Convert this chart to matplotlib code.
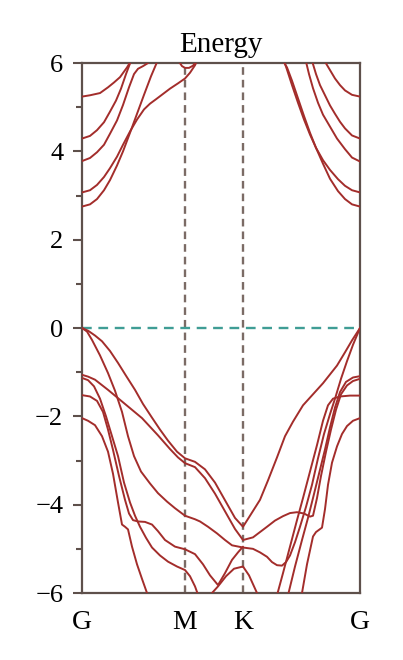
import matplotlib
matplotlib.use("Agg")
import matplotlib.pyplot as plt
from matplotlib.ticker import MultipleLocator

plt.rcParams['font.family'] = ['Liberation Serif', 'DejaVu Serif']
plt.rcParams['lines.scale_dashes'] = False

# high-symmetry points along the k-path (arbitrary path units)
kpt_labels = ["G", "M", "K", "G"]
kpt_pos = [0.0, 1.03, 1.61, 2.78]

# ---- valence bands ----
vb1_k = [0, .06, .13, .20, .28, .36, .44, .53, .61, .70, .78, .86, .95, 1.03, 1.13, 1.23, 1.33, 1.43, 1.53, 1.61,
         1.68, 1.78, 1.86, 1.95, 2.03, 2.11, 2.21, 2.31, 2.41, 2.48, 2.55, 2.63, 2.70, 2.78]
vb1_e = [0, -0.06, -0.17, -0.30, -0.52, -0.79, -1.08, -1.40, -1.72, -2.03, -2.30, -2.55, -2.80, -2.95, -3.03, -3.20,
         -3.50, -3.90, -4.30, -4.50, -4.25, -3.89, -3.45, -2.93, -2.45, -2.12, -1.75, -1.50, -1.25, -1.05, -0.85,
         -0.55, -0.28, 0]

vbc_k = [0, .06, .13, .26, .43, .60, .76, .88, .96, 1.03, 1.13, 1.23, 1.33, 1.43, 1.53, 1.61, 1.71, 1.78, 1.85,
         1.93, 2.01, 2.08, 2.15, 2.22, 2.28, 2.31, 2.35, 2.39, 2.44, 2.49, 2.54, 2.59, 2.65, 2.71, 2.78]
vbc_e = [-1.06, -1.10, -1.17, -1.40, -1.72, -2.04, -2.43, -2.74, -2.93, -3.06, -3.15, -3.40, -3.75, -4.15, -4.55,
         -4.80, -4.74, -4.62, -4.50, -4.36, -4.26, -4.19, -4.17, -4.20, -4.27, -4.25, -3.85, -3.35, -2.80, -2.30,
         -1.85, -1.50, -1.30, -1.20, -1.15]

vbb_k = [0, .05, .10, .18, .26, .33, .40, .46, .52, .59, .68, .76, .85, .93, 1.03, 1.13, 1.18, 1.26, 1.35, 1.43,
         1.50, 1.61, 1.71, 1.78, 1.85, 1.90, 1.95, 2.00, 2.04, 2.08, 2.13, 2.18, 2.24, 2.30, 2.36, 2.42, 2.48, 2.53,
         2.59, 2.65, 2.71, 2.78]
vbb_e = [0, -0.08, -0.27, -0.62, -1.02, -1.42, -1.90, -2.45, -2.90, -3.25, -3.52, -3.74, -3.93, -4.08, -4.25,
         -4.33, -4.38, -4.50, -4.65, -4.80, -4.92, -4.97, -5.00, -5.08, -5.18, -5.30, -5.37, -5.38, -5.30, -5.15,
         -4.85, -4.50, -4.05, -3.55, -2.95, -2.40, -1.95, -1.60, -1.15, -0.75, -0.38, 0]

vbd_k = [0, .06, .12, .18, .24, .30, .36, .42, .48, .53, .58, .64, .70, .78, .86, .95, 1.03, 1.08, 1.13, 1.17, 1.21]
vbd_e = [-1.13, -1.18, -1.32, -1.60, -2.00, -2.45, -2.90, -3.50, -3.95, -4.25, -4.50, -4.75, -4.97, -5.15, -5.29,
         -5.40, -5.48, -5.62, -5.85, -6.10, -6.40]

vbe_k = [0, .08, .15, .21, .26, .31, .37, .43, .47, .51, .56, .63, .70, .76, .83, .93, 1.03, 1.13, 1.21, 1.28,
         1.36, 1.43, 1.50, 1.56, 1.61]
vbe_e = [-1.52, -1.55, -1.65, -1.90, -2.30, -2.76, -3.35, -3.89, -4.20, -4.35, -4.38, -4.39, -4.45, -4.60, -4.80,
         -4.95, -5.01, -5.12, -5.35, -5.60, -5.82, -5.55, -5.25, -5.08, -4.95]

vbf_k = [0, .06, .13, .20, .26, .31, .36, .40, .43, .46, .50, .55, .60, .65, .68]
vbf_e = [-2.04, -2.10, -2.20, -2.45, -2.80, -3.30, -3.95, -4.45, -4.50, -4.56, -4.95, -5.35, -5.68, -6.00, -6.20]

vbx_k = [1.21, 1.28, 1.36, 1.44, 1.52, 1.61, 1.67, 1.72, 1.76, 1.80]
vbx_e = [-6.30, -6.05, -5.85, -5.62, -5.45, -5.40, -5.60, -5.85, -6.05, -6.30]

vba_k = [1.95, 2.01, 2.08, 2.15, 2.21, 2.28, 2.35, 2.41, 2.46, 2.51, 2.58, 2.68, 2.78]
vba_e = [-6.05, -5.55, -4.95, -4.35, -3.85, -3.25, -2.65, -2.10, -1.75, -1.60, -1.55, -1.53, -1.53]

vbg_k = [2.06, 2.13, 2.20, 2.26, 2.31, 2.37, 2.43, 2.48, 2.53, 2.58, 2.64, 2.71, 2.78]
vbg_e = [-6.05, -5.40, -4.80, -4.30, -3.85, -3.30, -2.75, -2.25, -1.80, -1.45, -1.22, -1.12, -1.09]

vbh_k = [2.20, 2.25, 2.31, 2.34, 2.37, 2.40, 2.43, 2.46, 2.50, 2.55, 2.60, 2.65, 2.71, 2.78]
vbh_e = [-6.00, -5.35, -4.72, -4.62, -4.57, -4.52, -4.10, -3.55, -3.05, -2.68, -2.40, -2.22, -2.10, -2.04]

# ---- conduction bands ----
c1l_k = [0, .08, .18, .26, .32, .38, .45, .49]
c1l_e = [5.24, 5.27, 5.32, 5.45, 5.56, 5.68, 5.90, 6.05]
c2l_k = [0, .08, .15, .22, .28, .34, .39, .44, .49]
c2l_e = [4.29, 4.35, 4.48, 4.66, 4.90, 5.15, 5.42, 5.75, 6.05]
c3l_k = [0, .08, .15, .22, .28, .35, .41, .47, .52, .56, .61, .66, .68]
c3l_e = [3.78, 3.85, 3.98, 4.15, 4.40, 4.70, 5.05, 5.45, 5.75, 5.87, 5.93, 6.00, 6.05]
c4l_k = [0, .08, .15, .22, .28, .35, .41, .48, .55, .62, .68, .74, .81, .88, .96, 1.03, 1.08, 1.13, 1.15]
c4l_e = [3.07, 3.12, 3.24, 3.42, 3.62, 3.88, 4.15, 4.45, 4.72, 4.95, 5.08, 5.18, 5.30, 5.42, 5.54, 5.65, 5.78,
         5.95, 6.05]
c5l_k = [0, .08, .15, .22, .28, .35, .41, .48, .55, .62, .69, .75, .77]
c5l_e = [2.75, 2.80, 2.92, 3.12, 3.35, 3.68, 4.00, 4.42, 4.85, 5.28, 5.70, 6.02, 6.12]
cu_k = [.97, 1.00, 1.03, 1.07, 1.11, 1.14]
cu_e = [6.03, 5.93, 5.89, 5.89, 5.94, 6.03]
c1r_k = [2.43, 2.48, 2.53, 2.58, 2.63, 2.70, 2.78]
c1r_e = [6.03, 5.84, 5.65, 5.50, 5.38, 5.28, 5.24]
c2r_k = [2.30, 2.34, 2.38, 2.43, 2.48, 2.53, 2.58, 2.63, 2.70, 2.78]
c2r_e = [6.05, 5.75, 5.50, 5.27, 5.04, 4.85, 4.67, 4.52, 4.36, 4.29]
c3r_k = [2.24, 2.27, 2.31, 2.36, 2.41, 2.48, 2.55, 2.63, 2.70, 2.78]
c3r_e = [6.03, 5.75, 5.43, 5.10, 4.83, 4.56, 4.29, 4.05, 3.86, 3.77]
c4r_k = [2.02, 2.05, 2.10, 2.16, 2.22, 2.28, 2.34, 2.41, 2.48, 2.56, 2.63, 2.70, 2.78]
c4r_e = [6.05, 5.85, 5.50, 5.10, 4.72, 4.38, 4.08, 3.80, 3.58, 3.37, 3.22, 3.12, 3.07]
c5r_k = [2.01, 2.05, 2.10, 2.16, 2.22, 2.28, 2.34, 2.41, 2.48, 2.56, 2.63, 2.70, 2.78]
c5r_e = [6.05, 5.90, 5.60, 5.20, 4.80, 4.42, 4.08, 3.72, 3.38, 3.10, 2.92, 2.80, 2.75]

bands = [
    (vb1_k, vb1_e), (vbc_k, vbc_e), (vbb_k, vbb_e), (vbd_k, vbd_e), (vbe_k, vbe_e), (vbf_k, vbf_e),
    (vbx_k, vbx_e), (vba_k, vba_e), (vbg_k, vbg_e), (vbh_k, vbh_e),
    (c1l_k, c1l_e), (c2l_k, c2l_e), (c3l_k, c3l_e), (c4l_k, c4l_e), (c5l_k, c5l_e), (cu_k, cu_e),
    (c1r_k, c1r_e), (c2r_k, c2r_e), (c3r_k, c3r_e), (c4r_k, c4r_e), (c5r_k, c5r_e),
]

y_ticks = [-6, -4, -2, 0, 2, 4, 6]
title = "Energy"
fermi_level = 0.0

band_color = "#a32d2b"
spine_color = "#5e504b"

fig = plt.figure(figsize=(4.03, 6.60), dpi=100)
ax = fig.add_axes([0.2035, 0.1015, 0.6898, 0.803])

for kk, ee in bands:
    ax.plot(kk, ee, color=band_color, lw=1.4, solid_joinstyle='round', solid_capstyle='round', zorder=3)

for xp in kpt_pos[1:-1]:
    ax.axvline(xp, color="#7b6b65", lw=1.7, dashes=(5.5, 3.6), zorder=2)
ax.axhline(fermi_level, color="#3f9d95", lw=1.7, dashes=(7.0, 4.8), zorder=2)

ax.set_xlim(kpt_pos[0], kpt_pos[-1])
ax.set_ylim(-6, 6)
ax.set_xticks(kpt_pos)
ax.set_xticklabels(kpt_labels, fontsize=20)
ax.tick_params(axis='x', length=0, pad=12)
ax.set_yticks(y_ticks)
ax.set_yticklabels([str(t).replace('-', '\u2212') for t in y_ticks], fontsize=19)
ax.yaxis.set_minor_locator(MultipleLocator(1))
ax.tick_params(axis='y', which='major', direction='out', length=6.5, width=1.5, color=spine_color, pad=7)
ax.tick_params(axis='y', which='minor', direction='out', length=4.5, width=1.5, color=spine_color)
ax.tick_params(axis='y', which='both', right=False)
for s in ax.spines.values():
    s.set_color(spine_color)
    s.set_linewidth(1.6)
ax.set_title(title, fontsize=21, pad=8)

fig.savefig("out.png", dpi=100)
